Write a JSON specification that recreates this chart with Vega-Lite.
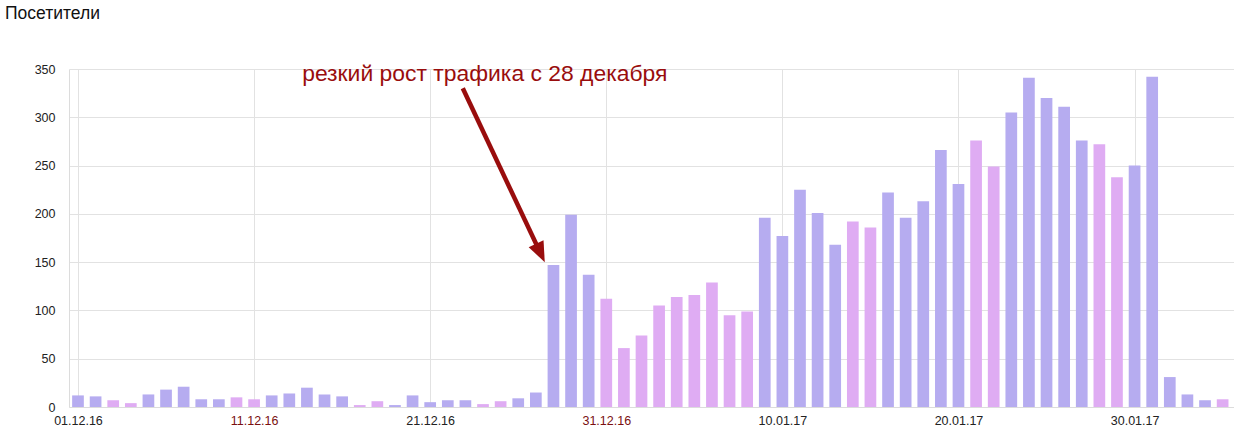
{
  "$schema": "https://vega.github.io/schema/vega-lite/v6.json",
  "width": 1165,
  "height": 338,
  "autosize": {"type": "none"},
  "padding": {"left": 69, "top": 69, "right": 0, "bottom": 38},
  "background": "white",
  "title": {
    "text": "Посетители",
    "anchor": "start",
    "frame": "group",
    "dx": -64,
    "offset": 26,
    "baseline": "alphabetic",
    "font": "Liberation Sans",
    "fontSize": 17.5,
    "fontWeight": "normal",
    "color": "#111"
  },
  "config": {
    "view": {"stroke": null},
    "font": "Liberation Sans"
  },
  "datasets": {
    "visits": [
      {"date": "2016-12-01", "visitors": 12, "kind": "workday"},
      {"date": "2016-12-02", "visitors": 11, "kind": "workday"},
      {"date": "2016-12-03", "visitors": 7, "kind": "holiday"},
      {"date": "2016-12-04", "visitors": 4, "kind": "holiday"},
      {"date": "2016-12-05", "visitors": 13, "kind": "workday"},
      {"date": "2016-12-06", "visitors": 18, "kind": "workday"},
      {"date": "2016-12-07", "visitors": 21, "kind": "workday"},
      {"date": "2016-12-08", "visitors": 8, "kind": "workday"},
      {"date": "2016-12-09", "visitors": 8, "kind": "workday"},
      {"date": "2016-12-10", "visitors": 10, "kind": "holiday"},
      {"date": "2016-12-11", "visitors": 8, "kind": "holiday"},
      {"date": "2016-12-12", "visitors": 12, "kind": "workday"},
      {"date": "2016-12-13", "visitors": 14, "kind": "workday"},
      {"date": "2016-12-14", "visitors": 20, "kind": "workday"},
      {"date": "2016-12-15", "visitors": 13, "kind": "workday"},
      {"date": "2016-12-16", "visitors": 11, "kind": "workday"},
      {"date": "2016-12-17", "visitors": 2, "kind": "holiday"},
      {"date": "2016-12-18", "visitors": 6, "kind": "holiday"},
      {"date": "2016-12-19", "visitors": 2, "kind": "workday"},
      {"date": "2016-12-20", "visitors": 12, "kind": "workday"},
      {"date": "2016-12-21", "visitors": 5, "kind": "workday"},
      {"date": "2016-12-22", "visitors": 7, "kind": "workday"},
      {"date": "2016-12-23", "visitors": 7, "kind": "workday"},
      {"date": "2016-12-24", "visitors": 3, "kind": "holiday"},
      {"date": "2016-12-25", "visitors": 6, "kind": "holiday"},
      {"date": "2016-12-26", "visitors": 9, "kind": "workday"},
      {"date": "2016-12-27", "visitors": 15, "kind": "workday"},
      {"date": "2016-12-28", "visitors": 147, "kind": "workday"},
      {"date": "2016-12-29", "visitors": 199, "kind": "workday"},
      {"date": "2016-12-30", "visitors": 137, "kind": "workday"},
      {"date": "2016-12-31", "visitors": 112, "kind": "holiday"},
      {"date": "2017-01-01", "visitors": 61, "kind": "holiday"},
      {"date": "2017-01-02", "visitors": 74, "kind": "holiday"},
      {"date": "2017-01-03", "visitors": 105, "kind": "holiday"},
      {"date": "2017-01-04", "visitors": 114, "kind": "holiday"},
      {"date": "2017-01-05", "visitors": 116, "kind": "holiday"},
      {"date": "2017-01-06", "visitors": 129, "kind": "holiday"},
      {"date": "2017-01-07", "visitors": 95, "kind": "holiday"},
      {"date": "2017-01-08", "visitors": 99, "kind": "holiday"},
      {"date": "2017-01-09", "visitors": 196, "kind": "workday"},
      {"date": "2017-01-10", "visitors": 177, "kind": "workday"},
      {"date": "2017-01-11", "visitors": 225, "kind": "workday"},
      {"date": "2017-01-12", "visitors": 201, "kind": "workday"},
      {"date": "2017-01-13", "visitors": 168, "kind": "workday"},
      {"date": "2017-01-14", "visitors": 192, "kind": "holiday"},
      {"date": "2017-01-15", "visitors": 186, "kind": "holiday"},
      {"date": "2017-01-16", "visitors": 222, "kind": "workday"},
      {"date": "2017-01-17", "visitors": 196, "kind": "workday"},
      {"date": "2017-01-18", "visitors": 213, "kind": "workday"},
      {"date": "2017-01-19", "visitors": 266, "kind": "workday"},
      {"date": "2017-01-20", "visitors": 231, "kind": "workday"},
      {"date": "2017-01-21", "visitors": 276, "kind": "holiday"},
      {"date": "2017-01-22", "visitors": 249, "kind": "holiday"},
      {"date": "2017-01-23", "visitors": 305, "kind": "workday"},
      {"date": "2017-01-24", "visitors": 341, "kind": "workday"},
      {"date": "2017-01-25", "visitors": 320, "kind": "workday"},
      {"date": "2017-01-26", "visitors": 311, "kind": "workday"},
      {"date": "2017-01-27", "visitors": 276, "kind": "workday"},
      {"date": "2017-01-28", "visitors": 272, "kind": "holiday"},
      {"date": "2017-01-29", "visitors": 238, "kind": "holiday"},
      {"date": "2017-01-30", "visitors": 250, "kind": "workday"},
      {"date": "2017-01-31", "visitors": 342, "kind": "workday"},
      {"date": "2017-02-01", "visitors": 31, "kind": "workday"},
      {"date": "2017-02-02", "visitors": 13, "kind": "workday"},
      {"date": "2017-02-03", "visitors": 7, "kind": "workday"},
      {"date": "2017-02-04", "visitors": 8, "kind": "holiday"},
      {"date": "2017-02-05", "visitors": 9, "kind": "holiday"}
    ],
    "note": [
      {"date": "2016-12-13T17:30:00Z", "visitors": 337.6, "label": "резкий рост трафика с 28 декабря"}
    ],
    "arrow": [
      {"date": "2016-12-22T20:25:00Z", "visitors": 330, "date2": "2016-12-27T06:15:00Z", "visitors2": 159.5}
    ]
  },
  "encoding": {
    "x": {
      "field": "date",
      "type": "temporal",
      "title": null,
      "scale": {
        "type": "utc",
        "padding": 0,
        "domain": [
          {"year": 2016, "month": 11, "date": 30, "hours": 11, "minutes": 45, "utc": true},
          {"year": 2017, "month": 2, "date": 4, "hours": 15, "minutes": 30, "utc": true}
        ]
      },
      "axis": {
        "values": [
          {"year": 2016, "month": 12, "date": 1, "utc": true},
          {"year": 2016, "month": 12, "date": 11, "utc": true},
          {"year": 2016, "month": 12, "date": 21, "utc": true},
          {"year": 2016, "month": 12, "date": 31, "utc": true},
          {"year": 2017, "month": 1, "date": 10, "utc": true},
          {"year": 2017, "month": 1, "date": 20, "utc": true},
          {"year": 2017, "month": 1, "date": 30, "utc": true}
        ],
        "labelExpr": "utcFormat(datum.value, '%d.%m.%y')",
        "labelColor": {
          "condition": {"test": "utcday(datum.value) == 0 || utcday(datum.value) == 6", "value": "#7a1010"},
          "value": "#222"
        },
        "labelFontSize": 12.5,
        "labelPadding": 7,
        "labelFlush": false,
        "ticks": false,
        "domainColor": "#dcdcdc",
        "grid": true,
        "gridColor": "#e2e2e2"
      }
    },
    "y": {
      "field": "visitors",
      "type": "quantitative",
      "title": null,
      "scale": {"domain": [0, 350], "nice": false},
      "axis": {
        "values": [0, 50, 100, 150, 200, 250, 300, 350],
        "labelFontSize": 12.5,
        "labelColor": "#222",
        "labelPadding": 14,
        "ticks": false,
        "domainColor": "#dcdcdc",
        "gridColor": "#e2e2e2"
      }
    }
  },
  "layer": [
    {
      "data": {"name": "visits"},
      "mark": {"type": "bar", "width": 11.7, "clip": true},
      "encoding": {
        "color": {
          "field": "kind",
          "type": "nominal",
          "legend": null,
          "scale": {"domain": ["workday", "holiday"], "range": ["#b6acf0", "#dfacf3"]}
        }
      }
    },
    {
      "data": {"name": "arrow"},
      "mark": {"type": "rule", "color": "#990d0d", "strokeWidth": 4.5},
      "encoding": {
        "x2": {"field": "date2"},
        "y2": {"field": "visitors2"}
      }
    },
    {
      "data": {"name": "arrow"},
      "mark": {
        "type": "point",
        "shape": "M0,-1L0.8,1L-0.8,1Z",
        "size": 420,
        "angle": 155,
        "filled": true,
        "opacity": 1,
        "color": "#990d0d"
      },
      "encoding": {
        "x": {"field": "date2", "type": "temporal"},
        "y": {"field": "visitors2", "type": "quantitative"}
      }
    },
    {
      "data": {"name": "note"},
      "mark": {
        "type": "text",
        "align": "left",
        "baseline": "alphabetic",
        "fontSize": 22.9,
        "font": "Liberation Sans",
        "color": "#990d0d"
      },
      "encoding": {
        "text": {"field": "label"}
      }
    }
  ]
}
